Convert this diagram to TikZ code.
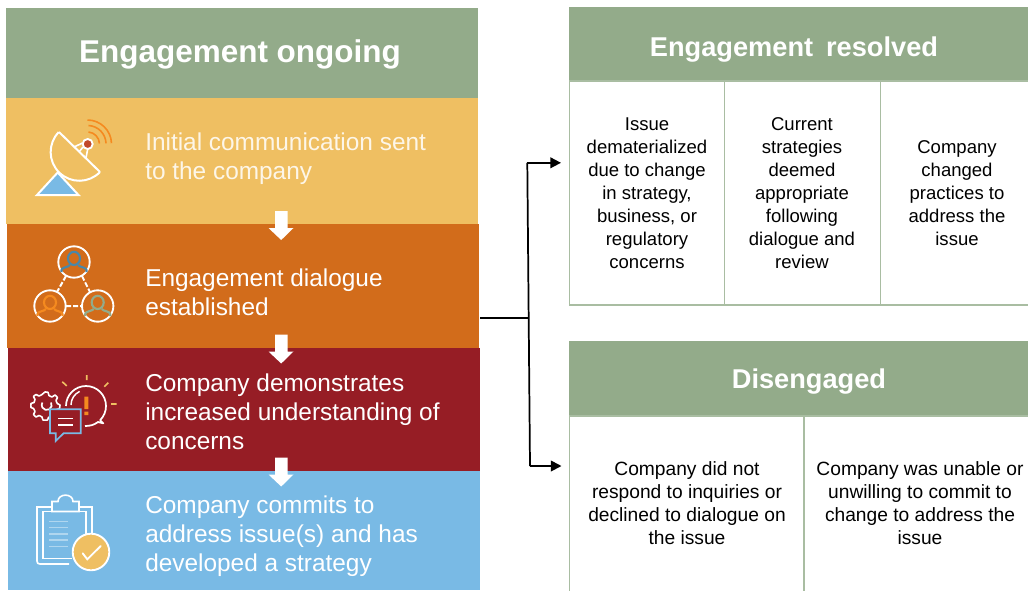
\documentclass[tikz,border=0pt]{standalone}
\usepackage{fontspec}
\setmainfont{Liberation Sans}
\usetikzlibrary{arrows.meta}
\definecolor{sage}{HTML}{93AB8A}
\definecolor{band1}{HTML}{EFBF62}
\definecolor{band2}{HTML}{D26C1B}
\definecolor{band3}{HTML}{961D25}
\definecolor{band4}{HTML}{79BAE5}
\definecolor{orangeic}{HTML}{F58A1F}
\definecolor{redic}{HTML}{C2492A}
\definecolor{tealic}{HTML}{4A87A8}
\definecolor{framec}{HTML}{A9BDA2}
\definecolor{paleyellow}{HTML}{FDF6E8}
\newcommand{\fs}[1]{\fontsize{#1}{#1}\selectfont}
\tikzset{
  x=0.75pt,y=-0.75pt,
  band/.style={draw=none,inner sep=0,outer sep=0,minimum width=472*0.75pt,anchor=north west},
  bandtext/.style={text=white,anchor=west,align=left,inner sep=0,font=\fs{18.3}},
  hdr/.style={fill=sage,draw=none,inner sep=0,outer sep=0,anchor=north west},
  hdrtext/.style={text=white,font=\bfseries\fs{20.4}},
  cell/.style={draw=framec,line width=0.9pt,inner sep=0,outer sep=0,anchor=north west},
  celltext/.style={text=black,align=center,inner sep=0,font=\fs{13.9}},
  celltextb/.style={text=black,align=center,inner sep=0,font=\fs{14.4}},
  downarrow/.style={fill=white,draw=none},
  ic/.style={draw=white,line width=1.5pt,line join=round},
  link/.style={draw=black,line width=1.3pt},
  tip/.style={-{Triangle[length=8pt,width=8pt]}}
}
\newcommand{\person}[3]{% x y colour
  \draw[#3,line width=1.6pt] (#1,#2-3.6) ellipse[x radius=6,y radius=6.6];
  \draw[#3,line width=1.6pt,line join=round] (#1-12.5,#2+10) -- (#1-12.5,#2+8) .. controls (#1-12,#2+5) and (#1-6,#2+5.5) .. (#1-4,#2+3)
     (#1+12.5,#2+10) -- (#1+12.5,#2+8) .. controls (#1+12,#2+5) and (#1+6,#2+5.5) .. (#1+4,#2+3);
}
\newcommand{\blockarrow}[1]{%
  \fill[downarrow] (275,#1) -- (287.5,#1) -- (287.5,#1+17) -- (293.5,#1+17) -- (281.2,#1+29) -- (268.5,#1+17) -- (275,#1+17) -- cycle;
}
\begin{document}
\begin{tikzpicture}
\useasboundingbox (0,0) rectangle (1028,590);
\fill[white] (0,0) rectangle (1028,590);
% left column
\node[hdr,minimum width=472*0.75pt,minimum height=90*0.75pt] (top) at (6,8) {};
\node[text=white,inner sep=0,font=\bfseries\fs{23.6}] (toplabel) at (240,54) {Engagement ongoing};
\node[band,fill=band1,minimum height=126*0.75pt] (b1) at (6,98) {};
\node[band,fill=band2,minimum height=124*0.75pt] (b2) at (7,224) {};
\node[band,fill=band3,minimum height=124*0.75pt] (b3) at (8,348) {};
\node[band,fill=band4,minimum height=119*0.75pt] (b4) at (8,471) {};
\node[bandtext,text=paleyellow] (t1) at (145,159) {Initial communication sent\\[3.3pt]to the company};
\node[bandtext] (t2) at (145,292) {Engagement dialogue\\[3.3pt]established};
\node[bandtext] (t3) at (145,412) {Company demonstrates\\[3.3pt]increased understanding of\\[3.3pt]concerns};
\node[bandtext] (t4) at (145,536) {Company commits to\\[3.3pt]address issue(s) and has\\[3.3pt]developed a strategy};
\blockarrow{211}
\blockarrow{334.5}
\blockarrow{457.5}
% icon 1: dish
\fill[band4,draw=white,line width=1.5pt,line join=miter] (37,195) -- (57.7,172.5) -- (78.5,195) -- cycle;
\draw[ic] (59,132) -- (100,172) (100,172) arc[start angle=44,end angle=224,radius=28.7];
\draw[white,line width=1.2pt] (82.5,143) -- (74,147) (87.7,149) -- (86,158) (83,147) -- (79,152);
\fill[redic,draw=white,line width=1.4pt] (87.7,144) circle[radius=5];
\draw[orangeic,line width=1.2pt] (88.5,132) arc[start angle=-85,end angle=-2,radius=12]
  (88.5,125.5) arc[start angle=-87,end angle=-2,radius=18.5]
  (87.5,120) arc[start angle=-90,end angle=-2,radius=24];
% icon 2: people
\draw[white,line width=1.5pt,dash pattern=on 3.8pt off 1.5pt] (66,276) -- (57,292) (82,276) -- (90,292) (66,306) -- (82,306);
\draw[white,line width=1.4pt] (74,262) circle[radius=15.7] (50,306) circle[radius=15.7] (97.7,306) circle[radius=15.7];
\person{74}{262}{tealic}
\person{50}{306}{orangeic}
\person{97.7}{306}{sage}
% icon 3
\draw[white,line width=1.3pt,line join=round] (66,406) arc[start angle=180,end angle=405,radius=20] -- (103.3,423.3) -- (98,422) .. controls (94,425) and (90,426) .. (85,426);
\draw[white,line width=1.1pt] (71,405) arc[start angle=180,end angle=245,radius=15];
% gear
\draw[white,line width=1.2pt,line join=round]
  plot[smooth cycle,tension=0.15] coordinates {
  (45,392) (48,392.3) (49,395.5) (52,397) (55,395) (57.5,397.5) (56,400.5) (57.3,403.5) (60,405) (59.5,408.5) (56.5,409.5) (55.5,412.5) (57,415.5) (54.5,417.5) (51.5,416) (48.5,417.5) (47.5,420) (43,420) (42,417) (39,415.5) (36,417) (33.5,414.5) (35,411.5) (33.5,408.5) (31,407.5) (31,403.5) (34,402.5) (35,399.5) (33.5,396.5) (36,394.5) (39,396) (42,394.5)};
\draw[white,line width=1.3pt] (46.7,405) ++(-30:5) arc[start angle=-30,end angle=210,radius=5];
\draw[band4,fill=band3,line width=1.3pt,line join=miter] (50,409.3) -- (80.7,409.3) -- (80.7,433.3) -- (63.5,433.3) -- (55.7,441) -- (55.7,433.3) -- (50,433.3) -- cycle;
\draw[white,line width=1.1pt] (58.3,418.3) -- (72.7,418.3) (58.3,425) -- (72.7,425);
\fill[orangeic] (84.3,396.7) rectangle (88.3,409) (84.3,411.7) rectangle (88.3,415);
\draw[band1,line width=1.2pt] (86.7,375) -- (86.7,380) (62.3,381.7) -- (66.7,386) (108.3,382.7) -- (104.3,386.7) (111,404) -- (116.7,404);
% icon 4
\draw[white,line width=1.2pt] (69,564) -- (40,564) .. controls (38,564) and (37,563) .. (37,561) -- (37,507) -- (52,507);
\draw[white,line width=1.2pt] (79,507) -- (91.7,507) -- (91.7,538);
\draw[white,line width=1.2pt] (72,558.5) -- (42.7,558.5) -- (42.7,511.5) -- (52,511.5);
\draw[white,line width=1.2pt] (79,511.5) -- (86,511.5) -- (86,538);
\draw[white,line width=1.2pt] (52,511.5) -- (52,501.5) -- (58,501.5) .. controls (58,493) and (73,493) .. (73,501.5) -- (79,501.5) -- (79,511.5) -- cycle;
\draw[band4!60!white,line width=0.8pt] (49.3,521.7) -- (68.3,521.7) (49.3,527.6) -- (68.3,527.6) (49.3,534) -- (68.3,534) (49.3,540) -- (68.3,540) (49.3,546.7) -- (68.3,546.7);
\fill[band1,draw=white,line width=1.4pt] (91,552) circle[radius=18.3];
\draw[white,line width=1.4pt,line cap=round] (82.7,553.3) -- (87.3,559.3) -- (100.7,546);
% right top
\node[hdr,minimum width=459*0.75pt,minimum height=74*0.75pt] (h1) at (569,7) {};
\node[hdrtext] (h1t) at (794,50) {Engagement\hspace{0.2em} resolved};
\node[cell,minimum width=155.5*0.75pt,minimum height=224*0.75pt] (c11) at (569.3,81) {};
\node[cell,minimum width=156*0.75pt,minimum height=224*0.75pt] (c12) at (724.8,81) {};
\node[cell,minimum width=149*0.75pt,minimum height=224*0.75pt] (c13) at (880.8,81) {};
\node[celltext] (c11t) at (647,193.3) {Issue\\[3.4pt]dematerialized\\[3.4pt]due to change\\[3.4pt]in strategy,\\[3.4pt]business, or\\[3.4pt]regulatory\\[3.4pt]concerns};
\node[celltext] (c12t) at (802,193.3) {Current\\[3.4pt]strategies\\[3.4pt]deemed\\[3.4pt]appropriate\\[3.4pt]following\\[3.4pt]dialogue and\\[3.4pt]review};
\node[celltext] (c13t) at (957,193.3) {Company\\[3.4pt]changed\\[3.4pt]practices to\\[3.4pt]address the\\[3.4pt]issue};
% right bottom
\node[hdr,minimum width=459*0.75pt,minimum height=75*0.75pt] (h2) at (569,341) {};
\node[hdrtext] (h2t) at (809,381.5) {Disengaged};
\node[cell,minimum width=234.7*0.75pt,minimum height=180*0.75pt] (c21) at (569.3,416) {};
\node[cell,minimum width=226*0.75pt,minimum height=180*0.75pt] (c22) at (804,416) {};
\node[celltextb] (c21t) at (687,503) {Company did not\\[3pt]respond to inquiries or\\[3pt]declined to dialogue on\\[3pt]the issue};
\node[celltextb] (c22t) at (920,503) {Company was unable or\\[3pt]unwilling to commit to\\[3pt]change to address the\\[3pt]issue};
% connector
\coordinate (src) at (480,318.3);
\coordinate (jn) at (528.5,318.3);
\coordinate (up) at (527.3,162.8);
\coordinate (dn) at (530,466);
\coordinate (upend) at (561,162.8);
\coordinate (dnend) at (561.5,466);
\draw[link] (src) -- (jn);
\draw[link,tip] (up) -- (upend);
\draw[link] (up) -- (dn);
\draw[link,tip] (dn) -- (dnend);
\end{tikzpicture}
\end{document}
